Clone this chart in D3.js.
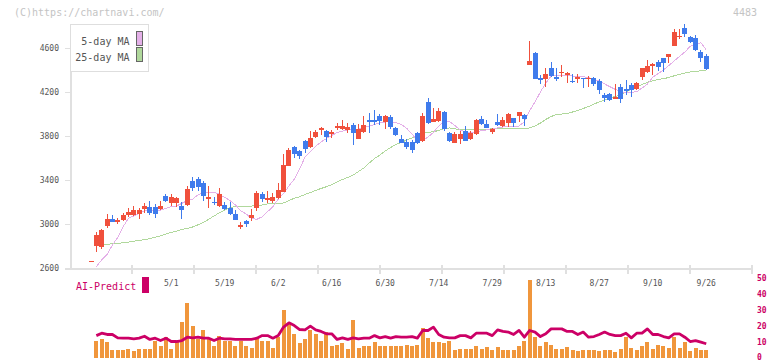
<!DOCTYPE html>
<html><head><meta charset="utf-8">
<script src="https://cdn.jsdelivr.net/npm/d3@7/dist/d3.min.js"></script>
<style>body{margin:0;background:#fff}svg{display:block}</style>
</head><body><svg id="c" width="772" height="361"></svg>
<script>
const dates = ["4/9","4/10","4/11","4/14","4/15","4/16","4/17","4/18","4/21","4/22","4/23","4/24","4/25","4/28","4/30",
"5/1","5/2","5/7","5/8","5/9","5/12","5/13","5/14","5/15","5/16","5/19","5/20","5/21","5/22","5/23","5/26","5/27","5/28","5/29","5/30",
"6/2","6/3","6/4","6/5","6/6","6/9","6/10","6/11","6/12","6/13","6/16","6/17","6/18","6/19","6/20","6/23","6/24","6/25","6/26","6/27","6/30",
"7/1","7/2","7/3","7/4","7/7","7/8","7/9","7/10","7/11","7/14","7/15","7/16","7/17","7/18","7/22","7/23","7/24","7/25","7/28","7/29","7/30","7/31",
"8/1","8/4","8/5","8/6","8/7","8/8","8/12","8/13","8/14","8/15","8/18","8/19","8/20","8/21","8/22","8/25","8/26","8/27","8/28","8/29",
"9/1","9/2","9/3","9/4","9/5","9/8","9/9","9/10","9/11","9/12","9/16","9/17","9/18","9/19","9/22","9/24","9/25","9/26"];
const open = [2664,2800,2795,2985,3045,3018,3036,3082,3082,3091,
3136,3157,3157,3136,3255,3194,3194,3164,3173,3391,
3409,3376,3224,3203,3167,3173,3142,3091,2975,3027,
3057,3148,3273,3218,3212,3239,3294,3527,3703,3667,
3752,3703,3788,3855,3845,3818,3876,3861,3855,3900,
3773,3833,3945,3945,3982,3930,3976,3870,3773,3742,
3742,3830,3755,4112,3930,3936,4021,3830,3739,3773,
3848,3770,3818,3955,3909,3839,3924,3891,3921,3961,
3985,3991,4445,4558,4330,4318,4421,4333,4370,4361,
4303,4318,4330,4315,4330,4303,4173,4182,4136,4248,
4227,4264,4227,4339,4385,4436,4476,4506,4521,4621,
4703,4785,4703,4688,4567,4527];
const high = [2664,2930,2955,3091,3082,3057,3097,3142,3167,3142,
3188,3209,3182,3209,3273,3273,3248,3203,3345,3430,
3430,3391,3345,3242,3324,3197,3197,3127,3021,3036,
3133,3300,3294,3300,3279,3370,3636,3688,3709,3673,
3764,3845,3855,3885,3855,3855,3921,3943,3915,3915,
3906,3982,4006,4036,3997,3991,3991,3885,3809,3770,
3764,3839,4006,4148,4052,4052,4027,3839,3839,3845,
3891,3845,3952,3982,3945,3870,4000,3976,4006,3961,
4015,4000,4664,4567,4355,4421,4476,4421,4445,4379,
4364,4364,4330,4345,4333,4315,4194,4194,4273,4273,
4309,4285,4294,4415,4491,4461,4491,4512,4545,4770,
4773,4818,4712,4718,4582,4545];
const low = [2664,2750,2773,2966,3015,2997,3027,3066,3073,3045,
3097,3082,3057,3127,3197,3167,3157,3045,3167,3303,
3303,3212,3142,3173,3157,3127,3082,3036,2955,2975,
3027,3118,3197,3194,3194,3224,3290,3527,3597,3594,
3648,3694,3779,3809,3748,3779,3855,3855,3830,3718,
3773,3824,3824,3900,3900,3864,3864,3800,3733,3679,
3642,3727,3748,3906,3924,3930,3848,3748,3733,3724,
3755,3764,3809,3900,3870,3818,3894,3885,3885,3885,
3930,3894,4445,4315,4273,4248,4339,4303,4333,4285,
4279,4279,4239,4248,4258,4182,4106,4118,4136,4103,
4173,4158,4218,4309,4370,4355,4394,4385,4461,4621,
4679,4697,4642,4573,4476,4400];
const close = [2664,2900,2945,3045,3021,3036,3082,3112,3127,3127,
3164,3097,3088,3164,3212,3242,3239,3127,3318,3330,
3339,3258,3242,3188,3273,3133,3088,3036,2991,3000,
3082,3285,3227,3239,3242,3309,3536,3673,3636,3621,
3685,3779,3839,3870,3794,3839,3894,3891,3885,3824,
3864,3900,3930,3930,3939,3982,3885,3809,3739,3703,
3673,3739,3982,3915,3955,4030,3864,3758,3818,3818,
3758,3830,3945,3906,3876,3864,3900,3945,4000,3915,
4015,3955,4485,4318,4309,4364,4345,4315,4385,4370,
4288,4339,4318,4330,4273,4218,4142,4127,4155,4136,
4209,4218,4285,4415,4436,4452,4430,4467,4545,4742,
4712,4724,4652,4582,4512,4409];
const ma5 = [null,2612,2673,2724,2809,2879,2976,3052,3073,3097,
3121,3121,3127,3127,3142,3157,3164,3188,3212,3227,
3264,3288,3288,3288,3270,3242,3212,3173,3121,3091,
3052,3042,3066,3112,3157,3227,3279,3345,3409,3500,
3609,3659,3709,3745,3777,3805,3831,3845,3855,3859,
3864,3877,3891,3905,3918,3927,3930,3923,3905,3870,
3818,3759,3759,3791,3832,3891,3936,3932,3895,3855,
3839,3827,3836,3849,3855,3864,3873,3882,3885,3885,
3891,3930,4030,4110,4200,4280,4345,4355,4352,4350,
4345,4339,4339,4332,4318,4297,4273,4248,4224,4205,
4194,4197,4203,4236,4273,4333,4368,4400,4441,4482,
4523,4564,4614,4636,4648,4582];
const ma25 = [null,null,2815,2816,2820,2824,2829,2836,2844,2849,
2858,2867,2879,2893,2909,2924,2934,2950,2960,2973,
2993,3015,3043,3073,3102,3127,3150,3158,3160,3161,
3163,3168,3173,3182,3187,3189,3191,3214,3234,3248,
3268,3286,3306,3323,3339,3358,3382,3405,3423,3445,
3477,3509,3555,3595,3627,3664,3695,3723,3741,3764,
3782,3800,3823,3832,3839,3850,3866,3873,3864,3861,
3861,3861,3862,3862,3863,3864,3864,3866,3867,3868,
3868,3870,3873,3891,3918,3950,3977,3995,4000,4005,
4018,4032,4050,4068,4091,4109,4127,4145,4159,4177,
4200,4223,4245,4268,4288,4303,4314,4321,4332,4347,
4361,4373,4382,4388,4393,4398];
const volume = [0,10.5,11.6,9.9,5.3,4.7,5.3,5.9,4.3,5.9,
5.9,5.9,10.5,7.4,13,5.9,10.5,22.2,34.3,19.7,
11.6,17.2,11.6,7.8,14,10.5,10.5,7.8,10.5,7.4,
6.4,12.4,10.5,10.5,6.4,13,29.7,21.4,14.7,9.1,
11.6,17.8,14.7,10.9,16.1,7.4,8.4,9.1,5.9,24,
6.4,7.8,7.8,10.3,7.4,7.4,7.4,7.8,7.8,8.4,
7.4,8,18.6,12.4,9.9,9.9,9.1,10.9,5.3,5.9,
5.9,5.9,7.4,5.9,6.6,5.3,6.6,5.3,5.3,4.7,
7.4,10.5,49,13.4,7.2,9.9,8.4,5.9,5.9,6.6,
4.7,4.3,4.7,4.7,4.7,4.3,4.7,4.7,3.6,5.9,
13.4,6.4,5.3,7.2,9.9,5.6,8.4,7.8,6.4,13.4,
6.4,9.9,4.3,6.4,5.3,4.7];
const aiPredict = [null,14,15.5,14.7,14.7,12.6,12.4,12.4,12,12.4,
13.6,11.6,12.4,10.9,12.4,10.3,10.3,10.9,13,12.6,
13,12.4,12.4,10.9,12.4,12,12,11.6,11.6,11.6,
11.6,12.4,14,14,12.4,14,19.3,22,20.3,17.8,
17.6,19.9,17.6,16.6,15.1,15.1,11.6,12.6,11.6,12.6,
12,12.4,12.4,14,12.6,13.4,12.4,13.4,13,13,
13.4,12.4,17.2,17.2,19.3,14.7,13,12.6,12.6,14,
14,12.6,15.5,15.5,15.5,14,17.6,16.6,16.2,14.7,
17.2,13,17.2,16.2,13.4,15.1,18.2,18.2,18.2,16.6,
16.6,14.7,16.2,13,13.4,14.7,16.2,14.7,14,14,
15.5,12.6,15.5,15.5,18.2,14.7,14.7,13.4,12.6,15.1,
15.1,13,10.3,10.9,9.9,8.9];
const yTicks = [2600,3000,3400,3800,4200,4600];
const dateLabels = ["5/1","5/19","6/2","6/16","6/30","7/14","7/29","8/13","8/27","9/10","9/26"];
const subTicks = [0,10,20,30,40,50];
const legendItems = ["5-day MA","25-day MA"];

const C = {up:"#f0503c", down:"#3f7bec", ma5:"#e4b0e8", ma25:"#b0d89c", vol:"#f0963c", ai:"#cc0066", axis:"#e0e0e0"};
const MONO = "'DejaVu Sans Mono', 'Liberation Mono', monospace";

const svg = d3.select("#c");
const x = d3.scalePoint().domain(dates).range([91, 706.25]);
const y = d3.scaleLinear().domain([2600, 4600]).range([268, 48]);
const yv = d3.scaleLinear().domain([0, 50]).range([358, 278]);
const gridX = d3.scaleLinear().domain([0, 11]).range([70, 752]);

svg.append("defs").append("clipPath").attr("id","plot")
  .append("rect").attr("x",70).attr("y",20).attr("width",682).attr("height",248);

// header texts
svg.append("text").attr("x",14).attr("y",16).text("(C)https://chartnavi.com/")
  .attr("font-family",MONO).attr("font-size",10).attr("fill","#c4c4c4");
svg.append("text").attr("x",757).attr("y",16).attr("text-anchor","end").text("4483")
  .attr("font-family",MONO).attr("font-size",10).attr("fill","#c4c4c4");

// axes
const ax = svg.append("g").attr("shape-rendering","crispEdges");
ax.append("line").attr("x1",71).attr("x2",71).attr("y1",24).attr("y2",269).attr("stroke",C.axis).attr("stroke-width",2);
ax.append("line").attr("x1",65).attr("x2",752).attr("y1",268.5).attr("y2",268.5).attr("stroke",C.axis).attr("stroke-width",2);
ax.selectAll(".yt").data(yTicks).join("line").attr("x1",65).attr("x2",70)
  .attr("y1",d=>Math.round(y(d))+0.5).attr("y2",d=>Math.round(y(d))+0.5).attr("stroke",C.axis);
ax.selectAll(".xt").data(gridX.ticks(11).slice(1)).join("line")
  .attr("x1",d=>Math.round(gridX(d))).attr("x2",d=>Math.round(gridX(d)))
  .attr("y1",265).attr("y2",274).attr("stroke",C.axis).attr("stroke-width",2);
svg.selectAll(".ytl").data(yTicks).join("text").attr("x",59).attr("y",d=>y(d)+3)
  .attr("text-anchor","end").text(d=>d).attr("font-family",MONO).attr("font-size",8).attr("fill","#555");
svg.selectAll(".xtl").data(dateLabels).join("text").attr("x",d=>x(d)).attr("y",285.5)
  .attr("text-anchor","middle").text(d=>d).attr("font-family",MONO).attr("font-size",8).attr("fill","#555");

// MA lines
const lineFor = arr => d3.line().defined(d=>arr[d]!=null).x(d=>x(dates[d])).y(d=>y(arr[d]));
const idx = d3.range(dates.length);
const mag = svg.append("g").attr("clip-path","url(#plot)").attr("shape-rendering","crispEdges");
mag.append("path").attr("d",lineFor(ma25)(idx)).attr("fill","none").attr("stroke",C.ma25).attr("stroke-width",1);
mag.append("path").attr("d",lineFor(ma5)(idx)).attr("fill","none").attr("stroke",C.ma5).attr("stroke-width",1);

// candles
const cg = svg.append("g").attr("shape-rendering","crispEdges");
const cand = cg.selectAll("g").data(idx).join("g");
cand.append("rect").attr("x",i=>Math.round(x(dates[i])-0.5)).attr("width",1)
  .attr("y",i=>y(high[i])).attr("height",i=>Math.max(1,y(low[i])-y(high[i])))
  .attr("fill",i=>close[i]>=open[i]?C.up:C.down);
cand.append("rect").attr("x",i=>Math.round(x(dates[i])-2.5)).attr("width",5)
  .attr("y",i=>y(Math.max(open[i],close[i])))
  .attr("height",i=>Math.max(1.5,Math.abs(y(open[i])-y(close[i]))))
  .attr("fill",i=>close[i]>=open[i]?C.up:C.down);

// legend
const lg = svg.append("g");
lg.append("rect").attr("x",70.5).attr("y",24.5).attr("width",78).attr("height",47)
  .attr("fill","#fff").attr("stroke","#dedede");
legendItems.forEach((t,k)=>{
  lg.append("text").attr("x",129.5).attr("y",45 + k*15.5).attr("text-anchor","end").text(t)
    .attr("font-family",MONO).attr("font-size",10).attr("fill","#555");
  lg.append("rect").attr("x",136.5).attr("y",31.5+k*16).attr("width",6).attr("height",14)
    .attr("fill",k===0?C.ma5:C.ma25).attr("stroke","#666");
});

// bottom panel
const bg = svg.append("g").attr("shape-rendering","crispEdges");
bg.selectAll("rect").data(idx.filter(i=>volume[i]>0)).join("rect")
  .attr("x",i=>Math.round(x(dates[i])-2)).attr("width",4)
  .attr("y",i=>yv(volume[i])).attr("height",i=>yv(0)-yv(volume[i])).attr("fill",C.vol);
svg.append("path").attr("d",d3.line().defined(d=>aiPredict[d]!=null).x(d=>x(dates[d])).y(d=>yv(aiPredict[d]))(idx))
  .attr("fill","none").attr("stroke",C.ai).attr("stroke-width",2.8).attr("stroke-linejoin","round");
svg.selectAll(".vt").data(subTicks).join("text").attr("x",757).attr("y",d=>Math.min(360,yv(d)+3))
  .text(d=>d).attr("font-family",MONO).attr("font-size",8).attr("font-weight","bold").attr("fill",C.ai);
svg.append("text").attr("x",76).attr("y",289.5).text("AI-Predict")
  .attr("font-family",MONO).attr("font-size",10).attr("fill",C.ai);
svg.append("rect").attr("x",142).attr("y",277).attr("width",7).attr("height",16).attr("fill",C.ai);
</script></body></html>
